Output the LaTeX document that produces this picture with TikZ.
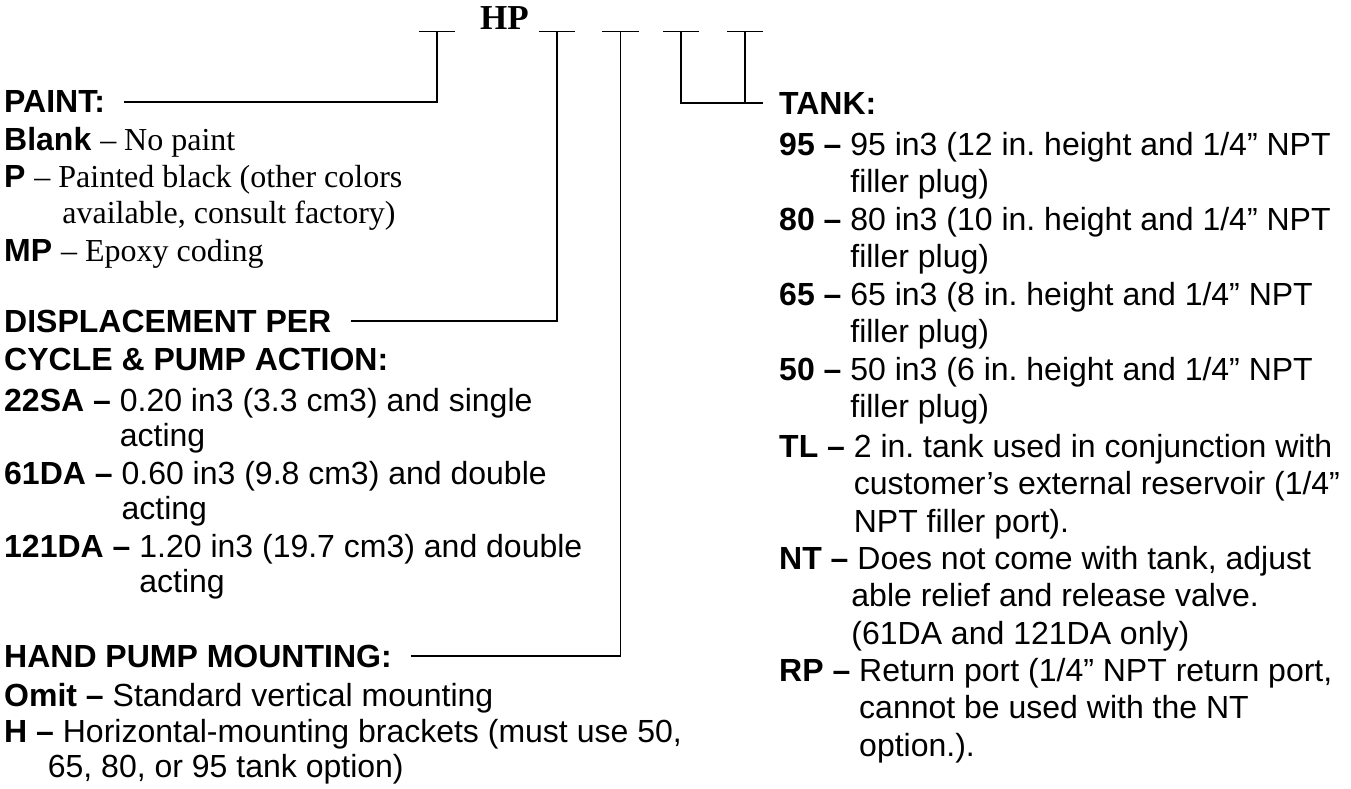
\documentclass[tikz,border=0pt]{standalone}
\usepackage{fontspec}
\setmainfont{Liberation Serif}
\setsansfont{Liberation Sans}
\usepackage{tikz}
\frenchspacing

\begin{document}
\begin{tikzpicture}[x=1pt, y=-1pt,
  head/.style={anchor=base west, inner sep=0pt, font=\sffamily\bfseries\fontsize{32}{37.5}\selectfont},
  item/.style={anchor=base west, inner sep=0pt, font=\sffamily\fontsize{32}{37.5}\selectfont},
  slot/.style={inner sep=0pt, minimum width=36pt, minimum height=0pt},
  rule/.style={line width=1.6pt},
  lead/.style={rule, shorten <=19pt}]
\useasboundingbox (0,0) rectangle (1351,789);

% part number
\node[font=\rmfamily\bfseries\fontsize{35}{40}\selectfont, anchor=base] (hp) at (504.5,30) {HP};
\foreach \n/\x in {s1/437, s2/557, s3/620.5, s4/681, s5/745} {
  \node[slot] (\n) at (\x,31.7) {};
  \draw[rule] (\n.west) -- (\n.east);
}

% left column
\node[head] (paint) at (4,113) {PAINT:};
\node[item] (blank) at (4,150) {\textbf{Blank} {\rmfamily – No paint}};
\node[item] (pblack) at (4,187) {\textbf{P} {\rmfamily – \begin{tabular}[t]{@{}l@{}}Painted black (other colors\\[-1.5pt]\hspace*{4pt}available, consult factory)\end{tabular}}};
\node[item] (mp) at (4,261) {\textbf{MP} {\rmfamily – Epoxy coding}};

\node[head] (disp) at (4,332) {DISPLACEMENT PER};
\node[head] (cycle) at (4,370) {CYCLE \& PUMP ACTION:};
\node[item] (sa22) at (4,411) {\textbf{22SA –} \begin{tabular}[t]{@{}l@{}}0.20 in3 (3.3 cm3) and single\\[-2pt]acting\end{tabular}};
\node[item] (da61) at (4,484) {\textbf{61DA –} \begin{tabular}[t]{@{}l@{}}0.60 in3 (9.8 cm3) and double\\[-2pt]acting\end{tabular}};
\node[item] (da121) at (4,557) {\textbf{121DA –} \begin{tabular}[t]{@{}l@{}}1.20 in3 (19.7 cm3) and double\\[-2pt]acting\end{tabular}};

\node[head] (mount) at (4,667) {HAND PUMP MOUNTING:};
\node[item] (omit) at (4,706) {\textbf{Omit –} Standard vertical mounting};
\node[item] (horiz) at (4,742) {\textbf{H –} \begin{tabular}[t]{@{}l@{}}Horizontal-mounting brackets (must use 50,\\[-2.5pt]\hspace*{-15pt}65, 80, or 95 tank option)\end{tabular}};

% right column
\node[head] (tank) at (779,114) {TANK:};
\node[item] (t95) at (779,155) {\textbf{95 –} \begin{tabular}[t]{@{}l@{}}95 in3 (12 in. height and 1/4” NPT\\filler plug)\end{tabular}};
\node[item] (t80) at (779,230) {\textbf{80 –} \begin{tabular}[t]{@{}l@{}}80 in3 (10 in. height and 1/4” NPT\\filler plug)\end{tabular}};
\node[item] (t65) at (779,305) {\textbf{65 –} \begin{tabular}[t]{@{}l@{}}65 in3 (8 in. height and 1/4” NPT\\filler plug)\end{tabular}};
\node[item] (t50) at (779,380) {\textbf{50 –} \begin{tabular}[t]{@{}l@{}}50 in3 (6 in. height and 1/4” NPT\\filler plug)\end{tabular}};
\node[item] (tl) at (779,457) {\textbf{TL –} \begin{tabular}[t]{@{}l@{}}2 in. tank used in conjunction with\\customer’s external reservoir (1/4”\\NPT filler port).\end{tabular}};
\node[item] (nt) at (779,569) {\textbf{NT –} \begin{tabular}[t]{@{}l@{}}Does not come with tank, adjust\\\hspace*{-6pt}able relief and release valve.\\\hspace*{-6pt}(61DA and 121DA only)\end{tabular}};
\node[item] (rp) at (779,681) {\textbf{RP –} \begin{tabular}[t]{@{}l@{}}Return port (1/4” NPT return port,\\cannot be used with the NT\\option.).\end{tabular}};

% leader lines
\draw[lead] (paint.east) -| (s1.south);
\draw[lead] (disp.east) -| (s2.south);
\draw[lead] (mount.east) -| (s3.south);
\draw[rule, shorten >=16pt] (s4.south) |- (tank.west);
\draw[rule] (s5.south) -- (s5 |- tank.west);
\end{tikzpicture}
\end{document}
